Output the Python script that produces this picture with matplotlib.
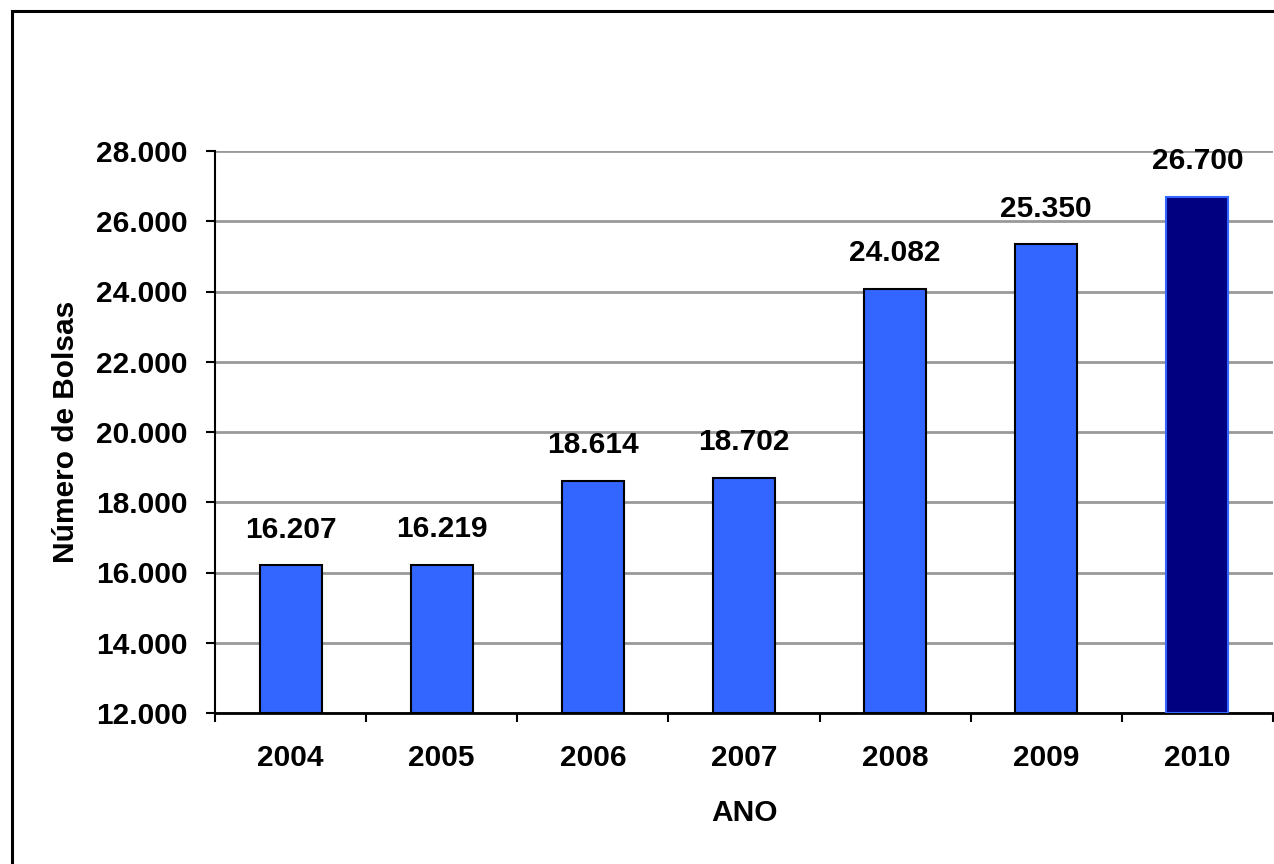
import matplotlib
matplotlib.use("Agg")
import matplotlib.pyplot as plt
from matplotlib.patches import Rectangle

years = ["2004", "2005", "2006", "2007", "2008", "2009", "2010"]
values = [16207, 16219, 18614, 18702, 24082, 25350, 26700]
labels = ["16.207", "16.219", "18.614", "18.702", "24.082", "25.350", "26.700"]
yticks = [12000, 14000, 16000, 18000, 20000, 22000, 24000, 26000, 28000]
ytick_labels = ["12.000", "14.000", "16.000", "18.000", "20.000", "22.000", "24.000", "26.000", "28.000"]

plt.rcParams['font.family'] = ['Liberation Sans', 'DejaVu Sans']
FS = 21.5

fig = plt.figure(figsize=(12.74, 8.64), dpi=100)
# outer frame
fig.patches.append(Rectangle((12/1274, -0.1), 1.2, 1 - 11/864 + 0.1, transform=fig.transFigure,
                             fill=False, edgecolor='black', linewidth=2.2, zorder=0))

ax = fig.add_axes([215/1274, 1 - 713/864, (1273 - 215)/1274, (713 - 151)/864])
x = list(range(len(years)))
face = ['#3366FF'] * 6 + ['#000080']
edge = ['black'] * 6 + ['#3366FF']
bars = ax.bar(x, [v - 12000 for v in values], bottom=12000, width=0.41,
              color=face, edgecolor=edge, linewidth=1.5, zorder=3)

for xi, v, lab in zip(x, values, labels):
    ax.annotate(lab, (xi, v), xytext=(0, 15.5), textcoords='offset points',
                ha='center', va='bottom', fontsize=FS, fontweight='bold')

ax.set_xlim(-0.5, 6.5)
ax.set_ylim(12000, 28000)
ax.set_yticks(yticks)
ax.set_yticklabels(ytick_labels, fontsize=FS, fontweight='bold')
ax.set_xticks(x)
ax.set_xticklabels(years, fontsize=FS, fontweight='bold')
ax.tick_params(axis='x', length=0, pad=22)
ax.set_xticks([i - 0.5 for i in range(8)], minor=True)
ax.tick_params(axis='x', which='minor', length=6.5, width=1.5, direction='out')
ax.tick_params(axis='y', length=6.5, width=1.5, direction='out', pad=13)
ax.yaxis.grid(True, color='#999999', linewidth=2, zorder=0)
ax.set_axisbelow(True)
for s in ['top', 'right']:
    ax.spines[s].set_visible(False)
ax.spines['left'].set_linewidth(1.5)
ax.spines['bottom'].set_linewidth(2)

ax.set_xlabel("ANO", fontsize=FS, fontweight='bold', labelpad=20)
ax.set_ylabel("Número de Bolsas", fontsize=FS, fontweight='bold', labelpad=12)

fig.savefig("out.png", dpi=100)
